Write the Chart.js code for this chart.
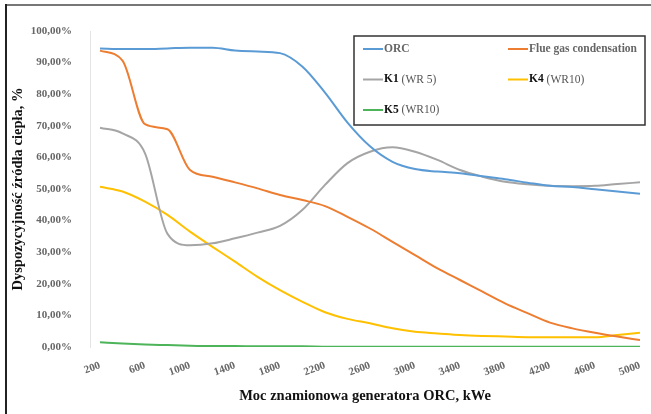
<!DOCTYPE html>
<html>
<head>
<meta charset="utf-8">
<script src="https://cdn.jsdelivr.net/npm/chart.js"></script>
<style>
  html, body { margin: 0; padding: 0; background: #fff; }
  #wrap { width: 651px; height: 414px; position: relative; }
</style>
</head>
<body>
<div id="wrap"><canvas id="myChart" width="651" height="414"></canvas></div>
<script>
// power of the ORC generator, kWe
const power = [200, 400, 600, 800, 1000, 1200, 1400, 1600, 1800, 2000, 2200, 2400, 2600,
  2800, 3000, 3200, 3400, 3600, 3800, 4000, 4200, 4400, 4600, 4800, 5000];
const xTicks = [200, 600, 1000, 1400, 1800, 2200, 2600, 3000, 3400, 3800, 4200, 4600, 5000];
const yTicks = [0, 10, 20, 30, 40, 50, 60, 70, 80, 90, 100];

// availability of the heat source, %
const orc = [94.5, 94.3, 94.3, 94.5, 94.7, 94.7, 93.8, 93.5, 93.0, 88.7, 80.5, 71.0, 63.5,
  58.6, 56.3, 55.5, 55.0, 54.0, 53.1, 52.0, 51.0, 50.6, 49.9, 49.2, 48.5];
const flueGas = [93.8, 90.6, 70.5, 68.9, 56.0, 53.9, 52.1, 50.2, 48.1, 46.5, 44.6, 41.2, 37.5,
  33.3, 29.1, 24.9, 21.2, 17.5, 13.8, 10.7, 7.7, 5.9, 4.5, 3.3, 2.2];
const k1 = [69.4, 67.6, 61.3, 35.8, 32.2, 32.8, 34.4, 36.2, 38.3, 43.4, 51.3, 58.2, 61.8,
  63.2, 61.8, 59.2, 56.0, 53.9, 52.3, 51.5, 51.0, 50.9, 51.0, 51.6, 52.1];
const k4 = [50.7, 49.2, 46.0, 41.8, 36.5, 31.7, 27.0, 22.2, 18.0, 14.3, 11.0, 8.9, 7.5,
  5.9, 4.8, 4.3, 3.8, 3.5, 3.3, 3.1, 3.1, 3.1, 3.1, 3.8, 4.5];
const k5 = [1.5, 1.1, 0.8, 0.6, 0.4, 0.3, 0.3, 0.2, 0.2, 0.2, 0.1, 0.1, 0.1,
  0.1, 0.1, 0.1, 0.1, 0.1, 0.1, 0.1, 0.1, 0.1, 0.1, 0.1, 0.1];

const SERIF = '"Liberation Serif", "Times New Roman", serif';

function series(label, values, color) {
  return {
    label: label,
    data: values.map((v, i) => ({ x: power[i], y: v })),
    borderColor: color,
    backgroundColor: color,
    borderWidth: 2,
    pointRadius: 0,
    cubicInterpolationMode: 'monotone',
    fill: false
  };
}

// boxed legend + picture frame
const boxLegend = {
  id: 'boxLegend',
  afterDraw(chart) {
    const ctx = chart.ctx;
    ctx.save();
    // frame
    ctx.strokeStyle = '#777';
    ctx.lineWidth = 2;
    ctx.beginPath();
    ctx.moveTo(6, 5); ctx.lineTo(651, 5);
    ctx.stroke();
    ctx.strokeStyle = '#222';
    ctx.beginPath();
    ctx.moveTo(6, 4); ctx.lineTo(6, 414);
    ctx.stroke();

    const bx = 354, by = 36, bw = 291, bh = 89;
    ctx.fillStyle = '#fff';
    ctx.fillRect(bx, by, bw, bh);
    ctx.strokeStyle = '#333';
    ctx.lineWidth = 1.5;
    ctx.strokeRect(bx, by, bw, bh);

    ctx.textBaseline = 'middle';
    chart.data.datasets.forEach((ds, i) => {
      const x = 363 + (i % 2) * 145;
      const y = 49 + Math.floor(i / 2) * 30.5;
      ctx.strokeStyle = ds.borderColor;
      ctx.lineWidth = 2;
      ctx.beginPath();
      ctx.moveTo(x, y); ctx.lineTo(x + 20, y);
      ctx.stroke();
      let tx = x + 21;
      const k = ds.label.indexOf(' (');
      if (k > 0) {
        const head = ds.label.slice(0, k);
        const tail = ds.label.slice(k);
        ctx.font = 'bold 11.5px ' + SERIF;
        ctx.fillStyle = '#111';
        ctx.fillText(head, tx, y);
        tx += ctx.measureText(head).width;
        ctx.font = '11.5px ' + SERIF;
        ctx.fillStyle = '#555';
        ctx.fillText(tail, tx, y);
      } else {
        ctx.font = 'bold 11.5px ' + SERIF;
        ctx.fillStyle = '#666';
        ctx.fillText(ds.label, tx, y);
      }
    });
    ctx.restore();
  }
};

const ctx = document.getElementById('myChart').getContext('2d');
new Chart(ctx, {
  type: 'line',
  data: {
    datasets: [
      series('ORC', orc, '#5b9bd5'),
      series('Flue gas condensation', flueGas, '#ed7d31'),
      series('K1 (WR 5)', k1, '#a5a5a5'),
      series('K4 (WR10)', k4, '#ffc000'),
      series('K5 (WR10)', k5, '#4db45a')
    ]
  },
  options: {
    responsive: false,
    animation: false,
    layout: { padding: { top: 31, right: 11, bottom: 9, left: 0 } },
    plugins: {
      legend: { display: false },
      tooltip: { enabled: false }
    },
    scales: {
      x: {
        type: 'linear',
        min: 111,
        max: 5000,
        afterBuildTicks: (scale) => { scale.ticks = xTicks.map(v => ({ value: v })); },
        afterFit: (scale) => { scale.height = 58; },
        grid: { display: false },
        border: { display: false },
        ticks: {
          minRotation: 20,
          maxRotation: 20,
          autoSkip: false,
          padding: 4,
          color: '#666',
          font: { family: SERIF, size: 11, weight: 'bold' },
          callback: (v) => String(v)
        },
        title: {
          display: true,
          text: 'Moc znamionowa generatora ORC, kWe',
          color: '#111',
          font: { family: SERIF, size: 14.5, weight: 'bold' },
          padding: { top: 0, bottom: 0 }
        }
      },
      y: {
        min: 0,
        max: 100,
        afterBuildTicks: (scale) => { scale.ticks = yTicks.map(v => ({ value: v })); },
        afterFit: (scale) => { scale.width = 90; },
        grid: { display: false },
        border: { display: true, color: '#e4e4e4', width: 1 },
        ticks: {
          padding: 10,
          color: '#666',
          font: { family: SERIF, size: 11, weight: 'bold' },
          callback: (v) => v.toFixed(2).replace('.', ',') + '%'
        },
        title: {
          display: true,
          text: 'Dyspozycyjność źródła ciepła, %',
          color: '#111',
          font: { family: SERIF, size: 14.5, weight: 'bold' },
          padding: { top: 10, bottom: 0 }
        }
      }
    }
  },
  plugins: [boxLegend]
});
</script>
</body>
</html>
